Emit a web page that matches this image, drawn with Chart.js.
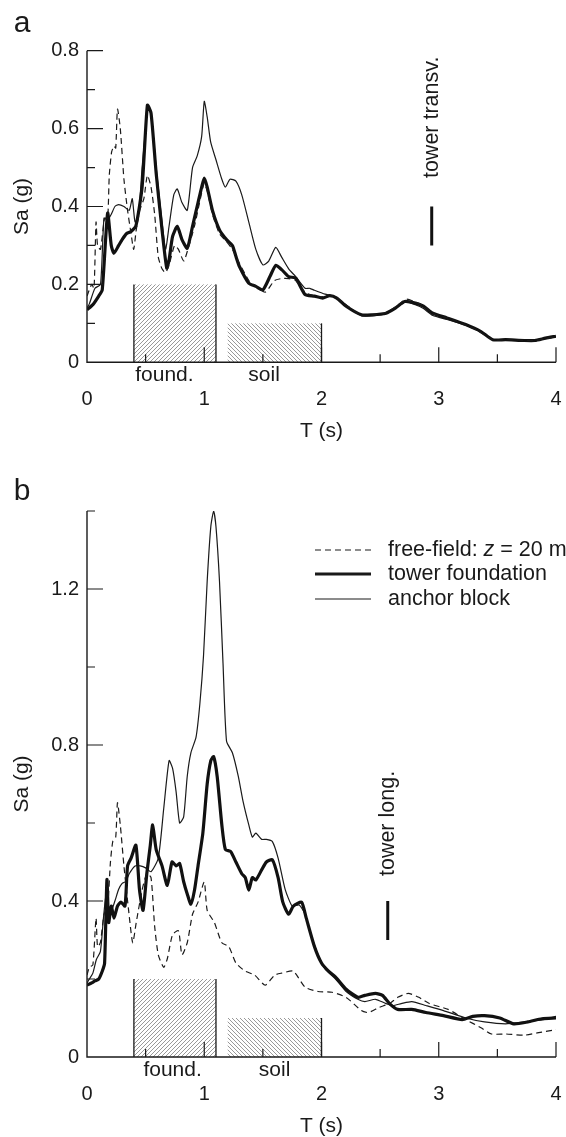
<!DOCTYPE html>
<html>
<head>
<meta charset="utf-8">
<script src="https://cdn.jsdelivr.net/npm/chart.js@4.4.1/dist/chart.umd.min.js"></script>
<style>
  html, body { margin: 0; padding: 0; background: #fff; }
  canvas { display: block; }
</style>
</head>
<body>
<canvas id="chartA" width="566" height="470"></canvas>
<canvas id="chartB" width="566" height="667"></canvas>
<script>
// ---- data ----
const seriesNames = ['free-field: z = 20 m', 'tower foundation', 'anchor block'];

// panel a
const aFreeT = [0, 0.04, 0.06, 0.077, 0.09, 0.115, 0.15, 0.176, 0.19, 0.21, 0.23, 0.245, 0.26, 0.284, 0.315, 0.346, 0.376, 0.398, 0.42, 0.45, 0.485, 0.515, 0.546, 0.577, 0.608, 0.64, 0.67, 0.70, 0.747, 0.78, 0.825, 0.87, 0.917, 0.96, 1.0, 1.025, 1.07, 1.13, 1.19, 1.24, 1.29, 1.38, 1.44, 1.52, 1.6, 1.66, 1.72, 1.78, 1.86, 1.94, 2.0, 2.1, 2.2, 2.34, 2.45, 2.55, 2.63, 2.72, 2.8, 2.87, 2.95, 3.07, 3.2, 3.33, 3.46, 3.6, 3.8, 3.9, 4.0];
const aFreeSa = [0.17, 0.2, 0.19, 0.36, 0.3, 0.29, 0.37, 0.37, 0.48, 0.54, 0.555, 0.55, 0.65, 0.6, 0.47, 0.39, 0.33, 0.29, 0.34, 0.39, 0.42, 0.48, 0.45, 0.38, 0.27, 0.24, 0.23, 0.25, 0.30, 0.29, 0.26, 0.30, 0.35, 0.41, 0.46, 0.44, 0.38, 0.33, 0.31, 0.29, 0.26, 0.21, 0.195, 0.18, 0.21, 0.215, 0.215, 0.21, 0.18, 0.17, 0.168, 0.17, 0.15, 0.12, 0.122, 0.128, 0.142, 0.162, 0.155, 0.145, 0.125, 0.114, 0.1, 0.082, 0.058, 0.058, 0.056, 0.06, 0.066];

const aTowerT = [0, 0.05, 0.1, 0.13, 0.176, 0.207, 0.23, 0.27, 0.3, 0.336, 0.376, 0.417, 0.47, 0.515, 0.546, 0.59, 0.64, 0.68, 0.70, 0.73, 0.77, 0.81, 0.855, 0.90, 0.947, 0.978, 1.0, 1.025, 1.07, 1.13, 1.19, 1.24, 1.27, 1.30, 1.38, 1.44, 1.50, 1.56, 1.61, 1.66, 1.72, 1.78, 1.86, 1.94, 2.01, 2.07, 2.13, 2.21, 2.34, 2.43, 2.55, 2.63, 2.71, 2.80, 2.87, 2.95, 3.07, 3.23, 3.36, 3.46, 3.57, 3.73, 3.82, 3.91, 4.0];
const aTowerSa = [0.135, 0.148, 0.17, 0.186, 0.383, 0.30, 0.28, 0.30, 0.315, 0.33, 0.336, 0.35, 0.45, 0.66, 0.64, 0.485, 0.34, 0.242, 0.263, 0.323, 0.349, 0.315, 0.293, 0.349, 0.41, 0.45, 0.473, 0.45, 0.39, 0.34, 0.315, 0.30, 0.272, 0.246, 0.203, 0.195, 0.186, 0.22, 0.249, 0.238, 0.22, 0.216, 0.174, 0.17, 0.165, 0.171, 0.165, 0.144, 0.122, 0.122, 0.126, 0.139, 0.156, 0.152, 0.144, 0.126, 0.114, 0.097, 0.079, 0.058, 0.058, 0.056, 0.056, 0.062, 0.067];

const aAnchorT = [0, 0.02, 0.068, 0.115, 0.145, 0.176, 0.207, 0.238, 0.27, 0.315, 0.36, 0.386, 0.41, 0.44, 0.47, 0.5, 0.515, 0.546, 0.59, 0.64, 0.67, 0.70, 0.74, 0.77, 0.81, 0.855, 0.90, 0.94, 0.978, 1.0, 1.025, 1.055, 1.10, 1.15, 1.18, 1.22, 1.27, 1.32, 1.38, 1.44, 1.50, 1.55, 1.61, 1.66, 1.72, 1.78, 1.86, 1.90, 1.94, 2.03, 2.12, 2.21, 2.34, 2.45, 2.55, 2.63, 2.72, 2.80, 2.87, 2.95, 3.07, 3.23, 3.36, 3.46, 3.57, 3.8, 4.0];
const aAnchorSa = [0.14, 0.15, 0.19, 0.2, 0.37, 0.365, 0.38, 0.40, 0.405, 0.40, 0.39, 0.42, 0.36, 0.38, 0.5, 0.6, 0.655, 0.64, 0.5, 0.36, 0.29, 0.35, 0.43, 0.445, 0.41, 0.39, 0.5, 0.53, 0.58, 0.67, 0.63, 0.565, 0.52, 0.47, 0.45, 0.47, 0.465, 0.43, 0.36, 0.29, 0.25, 0.26, 0.295, 0.27, 0.24, 0.22, 0.19, 0.19, 0.185, 0.175, 0.168, 0.145, 0.12, 0.12, 0.125, 0.14, 0.155, 0.148, 0.138, 0.12, 0.11, 0.095, 0.078, 0.058, 0.058, 0.057, 0.065];

// panel b
const bFreeT = [0, 0.02, 0.05, 0.077, 0.09, 0.114, 0.145, 0.176, 0.2, 0.22, 0.245, 0.26, 0.284, 0.315, 0.355, 0.39, 0.42, 0.47, 0.51, 0.546, 0.577, 0.608, 0.654, 0.685, 0.73, 0.78, 0.81, 0.855, 0.9, 0.947, 1.0, 1.025, 1.086, 1.15, 1.21, 1.27, 1.35, 1.43, 1.52, 1.6, 1.66, 1.76, 1.86, 1.97, 2.09, 2.21, 2.34, 2.4, 2.49, 2.58, 2.65, 2.74, 2.83, 2.92, 3.08, 3.23, 3.36, 3.45, 3.57, 3.73, 3.88, 4.0];
const bFreeSa = [0.21, 0.23, 0.236, 0.356, 0.283, 0.293, 0.366, 0.387, 0.5, 0.553, 0.564, 0.652, 0.595, 0.49, 0.376, 0.293, 0.345, 0.428, 0.47, 0.46, 0.335, 0.262, 0.23, 0.252, 0.314, 0.324, 0.262, 0.293, 0.366, 0.397, 0.449, 0.376, 0.345, 0.293, 0.283, 0.241, 0.22, 0.21, 0.184, 0.21, 0.215, 0.22, 0.179, 0.168, 0.166, 0.153, 0.119, 0.114, 0.127, 0.137, 0.153, 0.163, 0.153, 0.137, 0.122, 0.096, 0.075, 0.059, 0.059, 0.056, 0.064, 0.07];

const bTowerT = [0, 0.04, 0.068, 0.1, 0.13, 0.15, 0.17, 0.185, 0.207, 0.23, 0.26, 0.29, 0.324, 0.346, 0.376, 0.417, 0.448, 0.478, 0.51, 0.54, 0.56, 0.59, 0.64, 0.685, 0.725, 0.76, 0.79, 0.824, 0.855, 0.886, 0.917, 0.947, 0.988, 1.025, 1.056, 1.08, 1.11, 1.15, 1.18, 1.225, 1.27, 1.32, 1.35, 1.38, 1.41, 1.44, 1.49, 1.53, 1.58, 1.63, 1.67, 1.72, 1.76, 1.83, 1.87, 1.94, 2.0, 2.06, 2.12, 2.21, 2.31, 2.37, 2.46, 2.52, 2.58, 2.65, 2.77, 2.89, 3.04, 3.2, 3.29, 3.39, 3.52, 3.64, 3.76, 3.88, 4.0];
const bTowerSa = [0.184, 0.19, 0.195, 0.2, 0.22, 0.24, 0.455, 0.345, 0.387, 0.356, 0.387, 0.397, 0.387, 0.49, 0.51, 0.543, 0.428, 0.376, 0.47, 0.543, 0.595, 0.532, 0.49, 0.44, 0.5, 0.49, 0.496, 0.45, 0.418, 0.392, 0.428, 0.49, 0.574, 0.70, 0.76, 0.77, 0.72, 0.595, 0.532, 0.527, 0.50, 0.47, 0.46, 0.428, 0.46, 0.454, 0.48, 0.50, 0.506, 0.46, 0.397, 0.366, 0.387, 0.397, 0.356, 0.283, 0.241, 0.22, 0.205, 0.174, 0.153, 0.158, 0.163, 0.158, 0.137, 0.122, 0.122, 0.114, 0.106, 0.096, 0.104, 0.106, 0.1, 0.085, 0.09, 0.098, 0.1];

const bAnchorT = [0, 0.02, 0.05, 0.08, 0.114, 0.14, 0.16, 0.176, 0.207, 0.238, 0.27, 0.3, 0.33, 0.36, 0.41, 0.454, 0.5, 0.546, 0.608, 0.654, 0.70, 0.73, 0.76, 0.79, 0.824, 0.855, 0.886, 0.93, 0.963, 0.994, 1.025, 1.056, 1.08, 1.10, 1.13, 1.16, 1.19, 1.24, 1.29, 1.33, 1.38, 1.41, 1.44, 1.49, 1.53, 1.58, 1.63, 1.69, 1.75, 1.81, 1.86, 1.90, 1.97, 2.03, 2.12, 2.21, 2.31, 2.37, 2.46, 2.55, 2.61, 2.68, 2.77, 2.89, 3.04, 3.23, 3.39, 3.57, 3.73, 3.88, 4.0];
const bAnchorSa = [0.19, 0.2, 0.215, 0.25, 0.27, 0.355, 0.41, 0.39, 0.376, 0.40, 0.43, 0.445, 0.45, 0.47, 0.49, 0.49, 0.485, 0.475, 0.51, 0.636, 0.76, 0.74, 0.68, 0.60, 0.615, 0.72, 0.78, 0.82, 0.907, 1.03, 1.22, 1.36, 1.40, 1.36, 1.22, 1.01, 0.81, 0.78, 0.72, 0.657, 0.595, 0.564, 0.574, 0.558, 0.558, 0.553, 0.51, 0.43, 0.387, 0.39, 0.366, 0.324, 0.262, 0.226, 0.2, 0.168, 0.148, 0.142, 0.148, 0.137, 0.132, 0.137, 0.142, 0.132, 0.119, 0.1, 0.09, 0.085, 0.09, 0.095, 0.104];

// shaded period bands [T from, T to, Sa height]
const foundBand = [0.4, 1.1, 0.2];
const soilBand = [1.2, 2.0, 0.1];
const bandNames = ['found.', 'soil'];

// tower period markers [T, Sa from, Sa to]
const aMarker = [2.94, 0.3, 0.4];
const bMarker = [2.565, 0.3, 0.4];

// axis ticks
const xTicks = [0, 1, 2, 3, 4];
const aYTicks = [0, 0.2, 0.4, 0.6, 0.8];
const bYTicks = [0, 0.4, 0.8, 1.2];

// ---- drawing ----
const FONT = '"Liberation Sans", Arial, Helvetica, sans-serif';
const INK = '#1a1a1a';
Chart.defaults.font.family = FONT;
Chart.defaults.font.size = 20;
Chart.defaults.color = INK;

function pairs(ts, vs) {
  const n = Math.min(ts.length, vs.length);
  const out = [];
  for (let i = 0; i < n; i++) out.push({ x: ts[i], y: vs[i] });
  return out;
}
function isStep(v, step) {
  const r = v / step;
  return Math.abs(r - Math.round(r)) < 1e-6;
}

function hatch(ctx, dir) {
  const c = document.createElement('canvas');
  c.width = 4; c.height = 4;
  const g = c.getContext('2d');
  g.strokeStyle = '#999';
  g.lineWidth = 1;
  g.beginPath();
  if (dir > 0) {
    g.moveTo(0, 4); g.lineTo(4, 0);
    g.moveTo(-1, 1); g.lineTo(1, -1);
    g.moveTo(3, 5); g.lineTo(5, 3);
  } else {
    g.moveTo(0, 0); g.lineTo(4, 4);
    g.moveTo(-1, 3); g.lineTo(1, 5);
    g.moveTo(3, -1); g.lineTo(5, 1);
  }
  g.stroke();
  return ctx.createPattern(c, 'repeat');
}

function panelPlugin(p) {
  return {
    id: 'panel' + p.letter,
    beforeDatasetsDraw(chart) {
      const { ctx, scales: { x, y } } = chart;
      ctx.save();
      const bands = [[foundBand, 1, true], [soilBand, -1, false]];
      bands.forEach(([b, dir, leftEdge]) => {
        const x0 = x.getPixelForValue(b[0]);
        const x1 = x.getPixelForValue(b[1]);
        const y0 = y.getPixelForValue(0);
        const y1 = y.getPixelForValue(b[2]);
        ctx.fillStyle = hatch(ctx, dir);
        ctx.fillRect(x0, y1, x1 - x0, y0 - y1);
        ctx.strokeStyle = INK;
        ctx.lineWidth = 1.3;
        ctx.beginPath();
        if (leftEdge) { ctx.moveTo(x0, y0); ctx.lineTo(x0, y1); }
        ctx.moveTo(x1, y0); ctx.lineTo(x1, y1);
        ctx.stroke();
      });
      ctx.restore();
    },
    afterDatasetsDraw(chart) {
      const { ctx, chartArea: a, scales: { x, y } } = chart;
      ctx.save();
      // axes
      ctx.strokeStyle = INK;
      ctx.lineWidth = 1.4;
      ctx.beginPath();
      ctx.moveTo(a.left, a.top); ctx.lineTo(a.left, a.bottom); ctx.lineTo(a.right, a.bottom);
      ctx.stroke();
      // inward ticks
      ctx.lineWidth = 1.2;
      ctx.beginPath();
      x.ticks.forEach(t => {
        if (t.value === 0) return;
        const px = x.getPixelForValue(t.value);
        const len = isStep(t.value, 1) ? 15 : 8;
        ctx.moveTo(px, a.bottom); ctx.lineTo(px, a.bottom - len);
      });
      y.ticks.forEach(t => {
        if (t.value === 0) return;
        const py = y.getPixelForValue(t.value);
        const len = isStep(t.value, p.yMajor) ? 16 : 8;
        ctx.moveTo(a.left, py); ctx.lineTo(a.left + len, py);
      });
      ctx.stroke();

      ctx.fillStyle = INK;
      const F = '21px ' + FONT;
      // band labels
      ctx.font = F;
      ctx.textAlign = 'center';
      ctx.textBaseline = 'middle';
      bandNames.forEach((n, i) => {
        ctx.fillText(n, x.getPixelForValue(p.bandLabelT[i]), a.bottom + 13);
      });
      // axis titles
      ctx.fillText('T (s)', (a.left + a.right) / 2, a.bottom + 69);
      ctx.save();
      ctx.translate(22, (a.top + a.bottom) / 2);
      ctx.rotate(-Math.PI / 2);
      ctx.fillText('Sa (g)', 0, 0);
      ctx.restore();
      // panel letter
      ctx.font = '30px ' + FONT;
      ctx.textAlign = 'center';
      ctx.textBaseline = 'alphabetic';
      ctx.fillText(p.letter, 22, p.letterBase);
      // marker text
      ctx.font = '21.5px ' + FONT;
      ctx.save();
      ctx.translate(x.getPixelForValue(p.marker[0]), y.getPixelForValue(p.markerTextSa));
      ctx.rotate(-Math.PI / 2);
      ctx.textAlign = 'left';
      ctx.textBaseline = 'middle';
      ctx.fillText(p.markerText, 0, 0);
      ctx.restore();
      // legend
      if (p.legend) {
        const rows = [80, 104, 129];
        chart.data.datasets.slice(0, 3).forEach((ds, i) => {
          const cy = rows[i];
          ctx.strokeStyle = INK;
          ctx.lineWidth = ds.borderWidth;
          ctx.setLineDash(ds.borderDash || []);
          ctx.beginPath();
          ctx.moveTo(315, cy); ctx.lineTo(371, cy);
          ctx.stroke();
          ctx.setLineDash([]);
          ctx.textAlign = 'left';
          ctx.textBaseline = 'middle';
          if (i === 0) {
            let tx = 388;
            const parts = [['free-field: ', '21.5px '], ['z', 'italic 21.5px '], [' = 20 m', '21.5px ']];
            parts.forEach(([s, f]) => {
              ctx.font = f + FONT;
              ctx.fillText(s, tx, cy);
              tx += ctx.measureText(s).width;
            });
          } else {
            ctx.font = '21.5px ' + FONT;
            ctx.fillText(ds.label, 388, cy);
          }
        });
      }
      ctx.restore();
    }
  };
}

function makePanel(id, p) {
  const canvas = document.getElementById(id);
  const H = canvas.height;
  new Chart(canvas.getContext('2d'), {
    type: 'line',
    data: {
      datasets: [
        { label: seriesNames[0], data: pairs(p.freeT, p.freeSa), borderColor: INK, borderWidth: 1.2, borderDash: [6, 4], pointRadius: 0, tension: 0.2, fill: false },
        { label: seriesNames[1], data: pairs(p.towerT, p.towerSa), borderColor: '#111', borderWidth: 3.2, pointRadius: 0, tension: 0.2, fill: false },
        { label: seriesNames[2], data: pairs(p.anchorT, p.anchorSa), borderColor: INK, borderWidth: 1.2, pointRadius: 0, tension: 0.2, fill: false },
        { label: 'marker', data: [{ x: p.marker[0], y: p.marker[1] }, { x: p.marker[0], y: p.marker[2] }], borderColor: '#111', borderWidth: 3, pointRadius: 0, fill: false }
      ]
    },
    options: {
      responsive: false,
      animation: false,
      devicePixelRatio: 1,
      layout: { padding: { top: p.top, right: 10, left: 0, bottom: 0 } },
      plugins: { legend: { display: false }, tooltip: { enabled: false } },
      scales: {
        x: {
          type: 'linear', min: 0, max: 4,
          grid: { display: false, drawTicks: false },
          border: { display: false },
          afterFit: s => { s.height = H - p.bottom; s.paddingLeft = 0; s.paddingRight = 0; },
          ticks: {
            stepSize: 0.5, autoSkip: false, maxRotation: 0, padding: 25,
            callback: v => (xTicks.some(t => Math.abs(t - v) < 1e-6) ? String(Math.round(v)) : '')
          }
        },
        y: {
          type: 'linear', min: 0, max: p.yMax,
          grid: { display: false, drawTicks: false },
          border: { display: false },
          afterFit: s => { s.width = 87; },
          ticks: {
            stepSize: p.yMinor, padding: 8, autoSkip: false,
            callback: v => (p.yTicks.some(t => Math.abs(t - v) < 1e-6) ? String(+v.toFixed(1)) : '')
          }
        }
      }
    },
    plugins: [panelPlugin(p)]
  });
}

makePanel('chartA', {
  letter: 'a', letterBase: 32, top: 50.7, bottom: 362.3,
  yMax: 0.8, yMinor: 0.1, yMajor: 0.2, yTicks: aYTicks,
  freeT: aFreeT, freeSa: aFreeSa, towerT: aTowerT, towerSa: aTowerSa, anchorT: aAnchorT, anchorSa: aAnchorSa,
  marker: aMarker, markerText: 'tower transv.', markerTextSa: 0.473,
  bandLabelT: [0.66, 1.51], legend: false
});

makePanel('chartB', {
  letter: 'b', letterBase: 30, top: 41, bottom: 587,
  yMax: 1.4, yMinor: 0.2, yMajor: 0.4, yTicks: bYTicks,
  freeT: bFreeT, freeSa: bFreeSa, towerT: bTowerT, towerSa: bTowerSa, anchorT: bAnchorT, anchorSa: bAnchorSa,
  marker: bMarker, markerText: 'tower long.', markerTextSa: 0.464,
  bandLabelT: [0.73, 1.6], legend: true
});
</script>
</body>
</html>
